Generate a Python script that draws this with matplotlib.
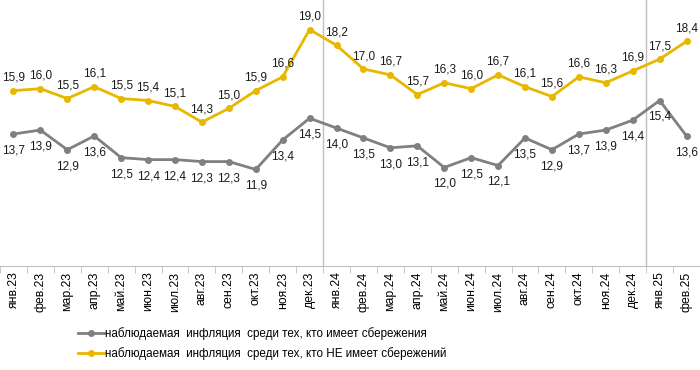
import matplotlib.pyplot as plt
import numpy as np

plt.rcParams['font.family'] = ['Liberation Sans', 'DejaVu Sans']

months = ['янв.23', 'фев.23', 'мар.23', 'апр.23', 'май.23', 'июн.23', 'июл.23',
          'авг.23', 'сен.23', 'окт.23', 'ноя.23', 'дек.23',
          'янв.24', 'фев.24', 'мар.24', 'апр.24', 'май.24', 'июн.24', 'июл.24',
          'авг.24', 'сен.24', 'окт.24', 'ноя.24', 'дек.24',
          'янв.25', 'фев.25']
with_savings = [13.7, 13.9, 12.9, 13.6, 12.5, 12.4, 12.4, 12.3, 12.3, 11.9, 13.4, 14.5,
                14.0, 13.5, 13.0, 13.1, 12.0, 12.5, 12.1, 13.5, 12.9, 13.7, 13.9, 14.4,
                15.4, 13.6]
no_savings = [15.9, 16.0, 15.5, 16.1, 15.5, 15.4, 15.1, 14.3, 15.0, 15.9, 16.6, 19.0,
              18.2, 17.0, 16.7, 15.7, 16.3, 16.0, 16.7, 16.1, 15.6, 16.6, 16.3, 16.9,
              17.5, 18.4]
label_gray = 'наблюдаемая  инфляция  среди тех, кто имеет сбережения'
label_gold = 'наблюдаемая  инфляция  среди тех, кто НЕ имеет сбережений'

gray = '#808080'
gold = '#E8B700'

fig = plt.figure(figsize=(7, 3.7), dpi=100)
ax = fig.add_axes([0.0, 0.281, 1.0, 0.719])

x = np.arange(len(months))
ax.plot(x, with_savings, color=gray, lw=2, marker='o', ms=4, label=label_gray)
ax.plot(x, no_savings, color=gold, lw=2, marker='o', ms=4, label=label_gold)

for xi, v in zip(x, no_savings):
    ax.annotate(f'{v:.1f}'.replace('.', ','), (xi, v), xytext=(0, 5),
                textcoords='offset points', ha='center', va='bottom',
                fontsize=8.5, color='#1a1a1a')
for xi, v in zip(x, with_savings):
    ax.annotate(f'{v:.1f}'.replace('.', ','), (xi, v), xytext=(0, -7.5),
                textcoords='offset points', ha='center', va='top',
                fontsize=8.5, color='#1a1a1a')

# year separators
for b in [11.5, 23.5]:
    ax.axvline(b, color='#BFBFBF', lw=1, zorder=0)

ax.set_xlim(-0.45, len(months) - 0.5)
ax.set_ylim(7, 20.5)
ax.set_xticks(x)
ax.set_xticklabels(months, rotation=90, fontsize=8.8)
ax.set_xticks(np.arange(-0.5, len(months)), minor=True)
ax.tick_params(axis='x', which='major', length=0, pad=4)
ax.tick_params(axis='x', which='minor', length=5, color='#BFBFBF')
ax.set_yticks([])
for s in ['top', 'right', 'left']:
    ax.spines[s].set_visible(False)
ax.spines['bottom'].set_color('#BFBFBF')

fig.legend(loc='upper left', bbox_to_anchor=(0.112, 0.115), frameon=False,
           fontsize=8.4, handlelength=2.2, handletextpad=0.1, labelspacing=0.55,
           borderaxespad=0, borderpad=0)

fig.savefig('out.png', dpi=100)
